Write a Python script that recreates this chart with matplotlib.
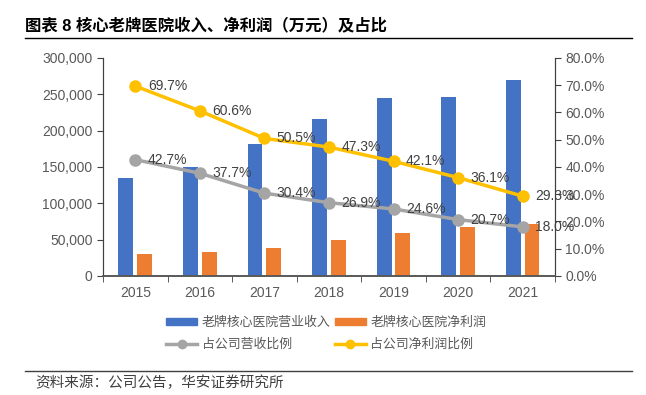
import numpy as np
import matplotlib.pyplot as plt
from matplotlib.lines import Line2D
from matplotlib.patches import Patch

plt.rcParams['font.family'] = ['Liberation Sans', 'Noto Sans CJK SC']

years = ['2015', '2016', '2017', '2018', '2019', '2020', '2021']
revenue = [135000, 150500, 181500, 215500, 245500, 246500, 269500]
profit = [29800, 33500, 39000, 49500, 59200, 67000, 71600]
rev_share = [42.7, 37.7, 30.4, 26.9, 24.6, 20.7, 18.0]
profit_share = [69.7, 60.6, 50.5, 47.3, 42.1, 36.1, 29.3]

blue = '#4472C4'
orange = '#ED7D31'
gray = '#A5A5A5'
yellow = '#FFC000'
tick_color = '#595959'

fig = plt.figure(figsize=(6.46, 3.95), dpi=100)
ax = fig.add_axes([0.1594, 0.3013, 0.6996, 0.5519])
ax2 = ax.twinx()

x = np.arange(len(years))
width = 0.23
ax.bar(x - 0.145, revenue, width, color=blue, zorder=2)
ax.bar(x + 0.145, profit, width, color=orange, zorder=2)
ax.set_xlim(-0.5, len(years) - 0.5)
ax.set_ylim(0, 300000)
ax.set_yticks(range(0, 300001, 50000))
ax.set_yticklabels(['{:,}'.format(v) for v in range(0, 300001, 50000)])
ax.set_xticks(x)
ax.set_xticklabels(years)
ax.set_xticks(np.arange(-0.5, len(years), 1), minor=True)
ax.tick_params(axis='x', which='major', length=0, pad=7, labelsize=10, labelcolor=tick_color)
ax.tick_params(axis='x', which='minor', length=4, color='#404040')
ax.tick_params(axis='y', length=4, color='#404040', labelsize=10, labelcolor=tick_color)

ax2.plot(x, rev_share, color=gray, lw=2.5, marker='o', ms=8, zorder=3)
ax2.plot(x, profit_share, color=yellow, lw=2.5, marker='o', ms=8, zorder=3)
for xi, v in zip(x, rev_share):
    ax2.annotate('{:.1f}%'.format(v), (xi, v), xytext=(9, 0), textcoords='offset points',
                 va='center', ha='left', fontsize=10, color='#404040')
for xi, v in zip(x, profit_share):
    ax2.annotate('{:.1f}%'.format(v), (xi, v), xytext=(9, 0), textcoords='offset points',
                 va='center', ha='left', fontsize=10, color='#404040')
ax2.set_ylim(0, 80)
ax2.set_yticks(range(0, 81, 10))
ax2.set_yticklabels(['{:.1f}%'.format(v) for v in range(0, 81, 10)])
ax2.tick_params(axis='y', length=4, color='#404040', labelsize=10, labelcolor=tick_color)

for a in (ax, ax2):
    a.spines['top'].set_visible(False)
    a.spines['left'].set_color('#404040')
    a.spines['right'].set_color('#404040')
    a.spines['bottom'].set_color('#595959')
    a.spines['bottom'].set_linewidth(1.2)

handles = [
    Patch(color=blue, label='老牌核心医院营业收入'),
    Line2D([], [], color=gray, lw=2.5, marker='o', ms=6, label='占公司营收比例'),
    Patch(color=orange, label='老牌核心医院净利润'),
    Line2D([], [], color=yellow, lw=2.5, marker='o', ms=6, label='占公司净利润比例'),
]
leg = fig.legend(handles=handles, ncol=2, loc='center', bbox_to_anchor=(0.505, 0.155),
                 frameon=False, fontsize=9.3, handlelength=2.4, handleheight=0.5,
                 columnspacing=0.3, labelspacing=0.75, handletextpad=0.35)
for t in leg.get_texts():
    t.set_color(tick_color)

fig.text(0.039, 0.937, '图表 8 核心老牌医院收入、净利润（万元）及占比', fontsize=11.8,
         fontweight='bold', ha='left', va='center', color='#000000')
fig.add_artist(Line2D([0.039, 0.978], [0.904, 0.904], color='#000000', lw=1))
fig.add_artist(Line2D([0.039, 0.978], [0.06, 0.06], color='#404040', lw=1))
fig.text(0.054, 0.03, '资料来源：公司公告，华安证券研究所', fontsize=10.5,
         ha='left', va='center', color='#404040')

fig.savefig('out.png', dpi=100)
